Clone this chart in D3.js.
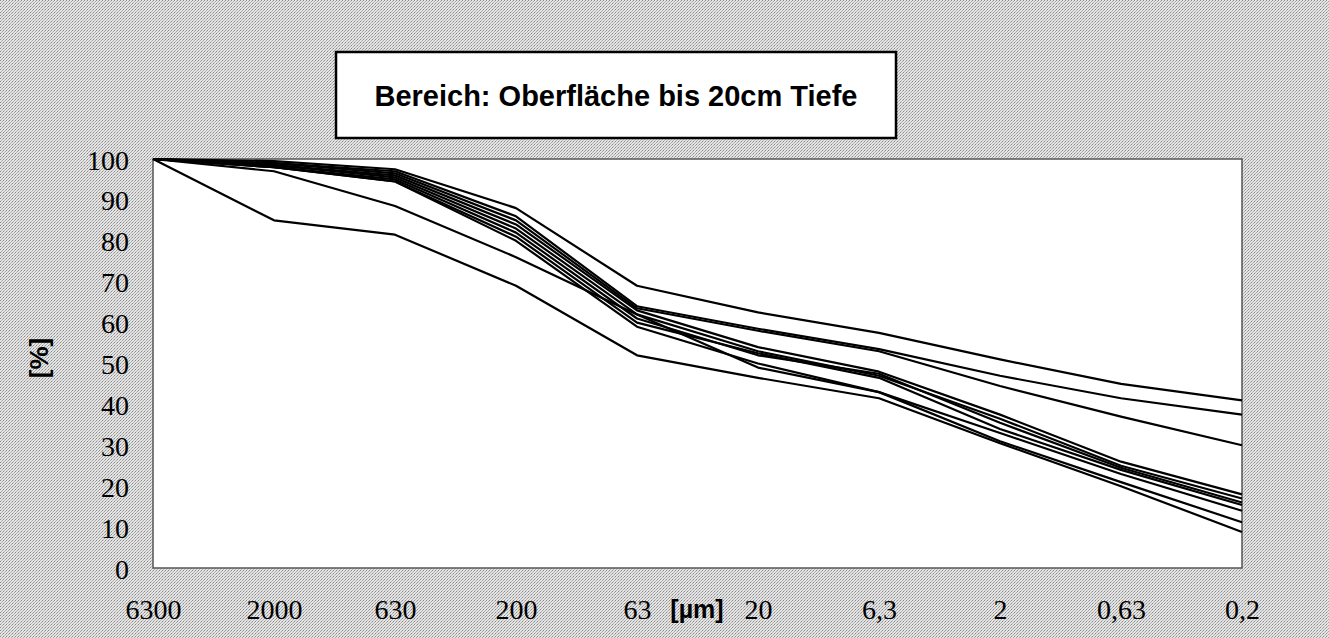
<!DOCTYPE html>
<html>
<head>
<meta charset="utf-8">
<script src="https://cdn.jsdelivr.net/npm/d3@7/dist/d3.min.js"></script>
<style>
  html, body { margin: 0; padding: 0; background: #ffffff; }
  svg { display: block; }
</style>
</head>
<body>
<div id="chart"></div>
<script>
// ---- data ----
const categories = ["6300", "2000", "630", "200", "63", "20", "6,3", "2", "0,63", "0,2"];
const yTicks = [0, 10, 20, 30, 40, 50, 60, 70, 80, 90, 100];
const titleText = "Bereich: Oberfläche bis 20cm Tiefe";
const xTitle = "[µm]";
const yTitle = "[%]";

const series1  = [100, 99.5, 97.5, 88, 69, 62.5, 57.5, 51, 45, 41];
const series2  = [100, 99, 97, 86, 64, 58.5, 53.5, 47, 41.5, 37.5];
const series3  = [100, 99, 96.5, 85, 63.5, 58, 53, 44.5, 37, 30];
const series4  = [100, 98.5, 96, 84, 63, 54, 48, 37.5, 26, 18];
const series5  = [100, 98.5, 95.5, 83, 62, 53, 47, 36.5, 25, 17];
const series6  = [100, 98, 95, 82, 61, 52, 47.5, 35.5, 24.5, 16];
const series7  = [100, 98, 94.5, 81, 60, 52.5, 46.5, 34, 24, 15.4];
const series8  = [100, 98, 94.5, 80, 59, 50, 43, 33, 23, 14];
const series9  = [100, 97, 88.5, 76, 62, 49, 43, 31, 21, 11.2];
const series10 = [100, 85, 81.5, 69, 52, 46.5, 41.5, 30.5, 20, 8.8];
const allSeries = [series1, series2, series3, series4, series5, series6, series7, series8, series9, series10];

// ---- layout ----
const W = 1329, H = 638;
const plot = { left: 153, right: 1242, top: 159, bottom: 568 };

const svg = d3.select("#chart").append("svg")
  .attr("width", W).attr("height", H);

const defs = svg.append("defs");
const pat = defs.append("pattern")
  .attr("id", "dither").attr("width", 3).attr("height", 3)
  .attr("patternUnits", "userSpaceOnUse");
pat.append("rect").attr("width", 3).attr("height", 3).attr("fill", "#e4e4e4");
pat.append("rect").attr("x", 0).attr("y", 0).attr("width", 1).attr("height", 1).attr("fill", "#8a8a8a");
pat.append("rect").attr("x", 2).attr("y", 1).attr("width", 1).attr("height", 1).attr("fill", "#a8a8a8");
pat.append("rect").attr("x", 1).attr("y", 2).attr("width", 1).attr("height", 1).attr("fill", "#b4b4b4");

svg.append("rect").attr("width", W).attr("height", H).attr("fill", "url(#dither)");

const x = d3.scalePoint().domain(categories).range([plot.left, plot.right]);
const y = d3.scaleLinear().domain([0, 100]).range([plot.bottom, plot.top]);

// plot area
svg.append("rect")
  .attr("x", plot.left).attr("y", plot.top)
  .attr("width", plot.right - plot.left).attr("height", plot.bottom - plot.top)
  .attr("fill", "#ffffff").attr("stroke", "#555555").attr("stroke-width", 1.5);

// lines
const line = d3.line()
  .x((d, i) => x(categories[i]))
  .y(d => y(d));

svg.append("g").selectAll("path")
  .data(allSeries)
  .join("path")
  .attr("d", line)
  .attr("fill", "none")
  .attr("stroke", "#000000")
  .attr("stroke-width", 2.2)
  .attr("stroke-linejoin", "round");

// y axis
const yAxis = svg.append("g")
  .attr("transform", `translate(${plot.left},0)`)
  .call(d3.axisLeft(y).tickValues(yTicks).tickSize(0).tickPadding(24));
yAxis.select(".domain").remove();
yAxis.selectAll("text")
  .attr("font-family", "'Liberation Serif', 'Times New Roman', serif")
  .attr("font-size", 28)
  .attr("fill", "#000")
  .attr("dy", "0.36em");

// x axis
const xAxis = svg.append("g")
  .attr("transform", `translate(0,${plot.bottom})`)
  .call(d3.axisBottom(x).tickSize(0).tickPadding(31));
xAxis.select(".domain").remove();
xAxis.selectAll("text")
  .attr("font-family", "'Liberation Serif', 'Times New Roman', serif")
  .attr("font-size", 28)
  .attr("fill", "#000");

// axis titles
svg.append("text")
  .attr("x", 697).attr("y", 618)
  .attr("text-anchor", "middle")
  .attr("font-family", "'Liberation Sans', Arial, sans-serif")
  .attr("font-weight", "bold")
  .attr("font-size", 25)
  .text(xTitle);

svg.append("text")
  .attr("transform", "translate(48,358) rotate(-90)")
  .attr("text-anchor", "middle")
  .attr("font-family", "'Liberation Sans', Arial, sans-serif")
  .attr("font-weight", "bold")
  .attr("font-size", 26)
  .text(yTitle);

// title box
svg.append("rect")
  .attr("x", 336).attr("y", 52).attr("width", 560).attr("height", 86)
  .attr("fill", "#ffffff").attr("stroke", "#000").attr("stroke-width", 2.5);
svg.append("text")
  .attr("x", 616).attr("y", 106)
  .attr("text-anchor", "middle")
  .attr("font-family", "'Liberation Sans', Arial, sans-serif")
  .attr("font-weight", "bold")
  .attr("font-size", 29)
  .text(titleText);
</script>
</body>
</html>
